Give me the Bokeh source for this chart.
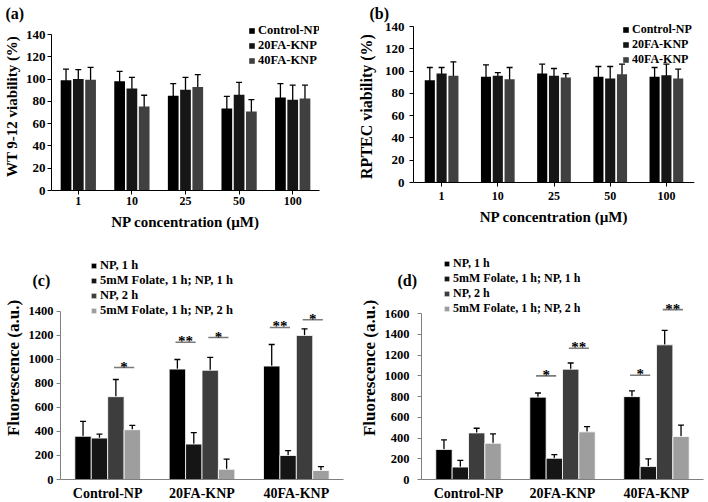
from bokeh.plotting import figure
from bokeh.models import (FactorRange, Range1d, ColumnDataSource, Whisker, TeeHead,
                          Legend, LegendItem, Label, FixedTicker, Span)
from bokeh.transform import dodge
from bokeh.layouts import column, row
from bokeh.embed import file_html
from bokeh.resources import INLINE
from bokeh.core.properties import value

FONT = "Liberation Serif"

# ---------------- data ----------------
concentrations = ["1", "10", "25", "50", "100"]
ab_series = ["Control-NP", "20FA-KNP", "40FA-KNP"]

a_control = [99, 98, 85, 73.5, 83.5]
a_control_err = [10, 9, 11, 11, 12.5]
a_20fa = [100, 91.5, 90.5, 86, 81.5]
a_20fa_err = [8.5, 10, 11, 11, 13]
a_40fa = [99.5, 75.5, 93, 71, 82.5]
a_40fa_err = [11, 10, 11, 10.5, 12]

b_control = [91.8, 94.8, 97.8, 94.8, 94.8]
b_control_err = [11.4, 10.8, 8.4, 9.3, 8.4]
b_20fa = [97.8, 95.7, 95.7, 93.3, 96.3]
b_20fa_err = [5.4, 3, 6.6, 10.8, 9.9]
b_40fa = [95.7, 92.7, 94.2, 97.2, 93.3]
b_40fa_err = [12.6, 10.5, 3.6, 9, 8.4]

cd_groups = ["Control-NP", "20FA-KNP", "40FA-KNP"]
cd_series = ["NP, 1 h", "5mM Folate, 1 h; NP, 1 h", "NP, 2 h", "5mM Folate, 1 h; NP, 2 h"]

c_np1 = [360, 920, 945]
c_np1_err = [125, 80, 180]
c_fol1 = [345, 295, 200]
c_fol1_err = [33, 95, 40]
c_np2 = [690, 910, 1200]
c_np2_err = [143, 107, 55]
c_fol2 = [415, 85, 75]
c_fol2_err = [36, 85, 33]

d_np1 = [290, 795, 800]
d_np1_err = [92, 40, 55]
d_fol1 = [120, 205, 125]
d_fol1_err = [65, 35, 75]
d_np2 = [450, 1065, 1300]
d_np2_err = [45, 60, 140]
d_fol2 = [350, 460, 415]
d_fol2_err = [90, 50, 110]

c_sig_group = ["Control-NP", "20FA-KNP", "20FA-KNP", "40FA-KNP", "40FA-KNP"]
c_sig_bars = [(2, 3), (0, 1), (2, 3), (0, 1), (2, 3)]
c_sig_y = [933, 1144, 1183, 1267, 1331]
c_sig_text = ["*", "**", "*", "**", "*"]

d_sig_group = ["20FA-KNP", "20FA-KNP", "40FA-KNP", "40FA-KNP"]
d_sig_bars = [(0, 1), (2, 3), (0, 1), (2, 3)]
d_sig_y = [1000, 1267, 1006, 1640]
d_sig_text = ["*", "**", "*", "**"]

ab_colors = ["#000000", "#161616", "#404040"]
cd_colors = ["#000000", "#151515", "#3d3d3d", "#9e9e9e"]


def make_panel(cats, names, vals, errs, colors, *, yrange, yticks, ylabel, xlabel,
               frame_w, frame_h, bl, br, bt, bb, bar_w, bar_step,
               legend_xy, legend_font, axis_color,
               ytick_font, xtick_font, ylabel_font, xlabel_font,
               ylabel_standoff, ytick_standoff, xtick_standoff, xlabel_standoff,
               bar_line, ybounds, xtick_in=0, xtick_out=4, zero_line=False,
               sig=None):
    p = figure(x_range=FactorRange(factors=cats), y_range=Range1d(*yrange),
               frame_width=frame_w, frame_height=frame_h,
               min_border_left=bl, min_border_right=br, min_border_top=bt,
               min_border_bottom=bb, output_backend="svg", toolbar_location=None)
    p.xgrid.visible = False
    p.ygrid.visible = False
    p.outline_line_color = None
    p.background_fill_color = "white"

    n = len(names)
    renderers = []
    for i in range(n):
        off = (i - (n - 1) / 2) * bar_step
        src = ColumnDataSource(dict(
            cat=cats, top=vals[i],
            upper=[v + e for v, e in zip(vals[i], errs[i])],
            lower=[v - e for v, e in zip(vals[i], errs[i])]))
        r = p.vbar(x=dodge("cat", off, range=p.x_range), top="top", bottom=0,
                   width=bar_w, source=src, fill_color=colors[i],
                   line_color=bar_line, line_width=0.8 if bar_line else 0)
        renderers.append(r)
        w = Whisker(source=src, base=dodge("cat", off, range=p.x_range),
                    upper="upper", lower="lower", line_color="black", line_width=1.3,
                    upper_head=TeeHead(size=6, line_color="black", line_width=1.3),
                    lower_head=TeeHead(size=6, line_color="black", line_width=1.3))
        p.add_layout(w)

    if sig is not None:
        groups, bars, ys, texts = sig
        for g, (b0, b1), y, t in zip(groups, bars, ys, texts):
            o0 = (b0 - (n - 1) / 2) * bar_step - 0.02
            o1 = (b1 - (n - 1) / 2) * bar_step + 0.02
            s = ColumnDataSource(dict(cat=[g], y=[y], t=[t]))
            p.segment(x0=dodge("cat", o0, range=p.x_range), y0="y",
                      x1=dodge("cat", o1, range=p.x_range), y1="y",
                      source=s, line_color="#7a7a7a", line_width=1.6)
            p.text(x=dodge("cat", (o0 + o1) / 2, range=p.x_range), y="y", text="t",
                   source=s, text_align="center", text_baseline="alphabetic",
                   text_font=value(FONT), text_font_style="bold",
                   text_font_size="15px", y_offset=-1, text_color="black")

    if zero_line:
        p.add_layout(Span(location=0, dimension="width", line_color="black",
                          line_width=1))

    items = [LegendItem(label=nm, renderers=[r]) for nm, r in zip(names, renderers)]
    leg = Legend(items=items, location=legend_xy, orientation="vertical",
                 glyph_width=7, glyph_height=7, label_standoff=3,
                 spacing=0, padding=0, margin=0, label_height=8,
                 label_text_font=FONT, label_text_font_style="bold",
                 label_text_font_size=legend_font, label_text_color="black",
                 background_fill_alpha=0, border_line_color=None)
    p.add_layout(leg)

    p.yaxis.ticker = FixedTicker(ticks=yticks)
    p.yaxis.bounds = ybounds
    for ax in (p.xaxis[0], p.yaxis[0]):
        ax.axis_line_color = axis_color
        ax.major_tick_line_color = axis_color
        ax.minor_tick_line_color = None
        ax.major_tick_in = 0
        ax.major_label_text_font = FONT
        ax.major_label_text_font_style = "bold"
        ax.major_label_text_color = "black"
        ax.axis_label_text_font = FONT
        ax.axis_label_text_font_style = "bold"
        ax.axis_label_text_color = "black"
    if zero_line:
        p.xaxis.axis_line_color = None
    p.yaxis.major_tick_out = 4
    p.xaxis.major_tick_out = xtick_out
    p.xaxis.major_tick_in = xtick_in
    p.yaxis.major_label_text_font_size = ytick_font
    p.xaxis.major_label_text_font_size = xtick_font
    p.yaxis.axis_label = ylabel
    p.xaxis.axis_label = xlabel
    p.yaxis.axis_label_text_font_size = ylabel_font
    p.xaxis.axis_label_text_font_size = xlabel_font
    p.yaxis.axis_label_standoff = ylabel_standoff
    p.yaxis.major_label_standoff = ytick_standoff
    p.xaxis.major_label_standoff = xtick_standoff
    p.xaxis.axis_label_standoff = xlabel_standoff
    return p


def set_title(p, text, offset, standoff):
    p.title.text = text
    p.title.align = "left"
    p.title.offset = offset
    p.title.standoff = standoff
    p.title.text_font = FONT
    p.title.text_font_style = "bold"
    p.title.text_font_size = "16px"
    p.title.text_color = "black"


def add_panel_label(p, text, x, y):
    p.add_layout(Label(x=x, y=y, x_units="screen", y_units="screen", text=text,
                       text_font=FONT, text_font_style="bold", text_font_size="16px",
                       text_baseline="top", text_color="black"), "above")


pa = make_panel(concentrations, ab_series,
                [a_control, a_20fa, a_40fa],
                [a_control_err, a_20fa_err, a_40fa_err], ab_colors,
                yrange=(0, 150.8), yticks=list(range(0, 141, 20)), ybounds=(0, 140),
                ylabel="WT 9-12 viability (%)", xlabel="NP concentration (\u00b5M)",
                frame_w=268, frame_h=168, bl=51, br=35, bt=22, bb=46,
                bar_w=0.2, bar_step=0.229,
                legend_xy=(197, 122), legend_font="12.5px",
                axis_color="black", ytick_font="13px", xtick_font="12px",
                ylabel_font="15px", xlabel_font="15px", ylabel_standoff=3,
                ytick_standoff=2, xtick_standoff=2, xlabel_standoff=6,
                bar_line=None)
set_title(pa, "(a)", -46, 2)

pb = make_panel(concentrations, ab_series,
                [b_control, b_20fa, b_40fa],
                [b_control_err, b_20fa_err, b_40fa_err], ab_colors,
                yrange=(-7.18, 143.6), yticks=list(range(0, 141, 20)), ybounds=(0, 140),
                ylabel="RPTEC viability (%)", xlabel="NP concentration (\u00b5M)",
                frame_w=281, frame_h=168, bl=59, br=14, bt=22, bb=46,
                bar_w=0.18, bar_step=0.21,
                legend_xy=(209, 123), legend_font="12px",
                axis_color="black", ytick_font="13px", xtick_font="12px",
                ylabel_font="16px", xlabel_font="15px", ylabel_standoff=7,
                ytick_standoff=5, xtick_standoff=1, xlabel_standoff=6,
                bar_line=None, xtick_in=8, xtick_out=-4, zero_line=True)
set_title(pb, "(b)", -44, 2)

pc = make_panel(cd_groups, cd_series,
                [c_np1, c_fol1, c_np2, c_fol2],
                [c_np1_err, c_fol1_err, c_np2_err, c_fol2_err], cd_colors,
                yrange=(0, 1858), yticks=list(range(0, 1401, 200)), ybounds=(0, 1400),
                ylabel="Fluorescence (a.u.)", xlabel=None,
                frame_w=283, frame_h=223, bl=58, br=13, bt=20, bb=23,
                bar_w=0.174, bar_step=0.174,
                legend_xy=(30, 161), legend_font="12.5px",
                axis_color="#808080", ytick_font="12.5px", xtick_font="14px",
                ylabel_font="17px", xlabel_font="15px", ylabel_standoff=3,
                ytick_standoff=3, xtick_standoff=6, xlabel_standoff=8,
                bar_line="white", xtick_out=0,
                sig=(c_sig_group, c_sig_bars, c_sig_y, c_sig_text))
add_panel_label(pc, "(c)", -28, -15)

pd_ = make_panel(cd_groups, cd_series,
                 [d_np1, d_fol1, d_np2, d_fol2],
                 [d_np1_err, d_fol1_err, d_np2_err, d_fol2_err], cd_colors,
                 yrange=(0, 2153), yticks=list(range(0, 1601, 200)), ybounds=(0, 1600),
                 ylabel="Fluorescence (a.u.)", xlabel=None,
                 frame_w=282, frame_h=223, bl=64, br=8, bt=20, bb=23,
                 bar_w=0.174, bar_step=0.174,
                 legend_xy=(22, 163), legend_font="12px",
                 axis_color="#808080", ytick_font="12.5px", xtick_font="14px",
                 ylabel_font="17px", xlabel_font="15px", ylabel_standoff=3,
                 ytick_standoff=8, xtick_standoff=6, xlabel_standoff=8,
                 bar_line="white", xtick_out=0,
                 sig=(d_sig_group, d_sig_bars, d_sig_y, d_sig_text))
add_panel_label(pd_, "(d)", -24, -15)

layout = column(row(pa, pb, spacing=0), row(pc, pd_, spacing=0), spacing=0)
open("out.html", "w").write(file_html(layout, INLINE))
